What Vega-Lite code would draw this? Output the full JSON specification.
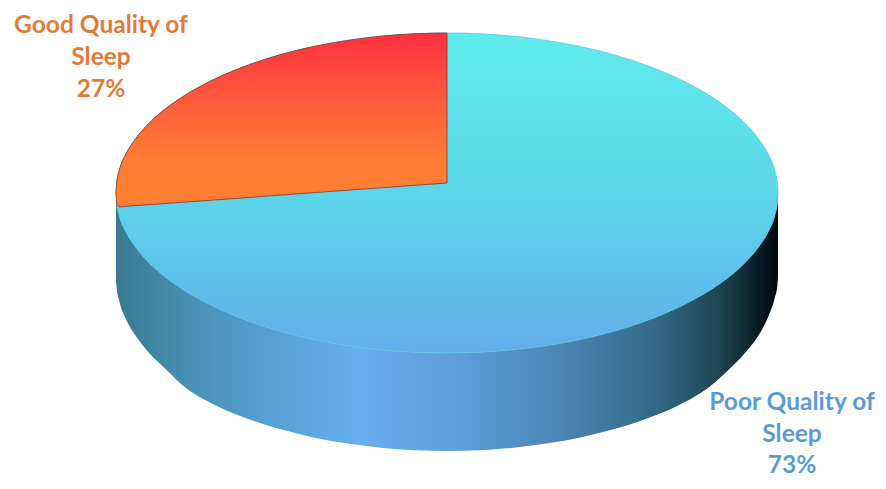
{
  "$schema": "https://vega.github.io/schema/vega-lite/v6.json",
  "width": 886,
  "height": 489,
  "autosize": {"type": "fit", "contains": "padding"},
  "padding": 0,
  "background": "#ffffff",
  "config": {"view": {"stroke": null}},
  "datasets": {
    "outline": [
      {"x": 116, "top": 193, "low": 193, "bottom": 280, "cut": 193},
      {"x": 116.7, "top": 182.9, "low": 203.1, "bottom": 288, "cut": 203},
      {"x": 119.3, "top": 170.4, "low": 215.6, "bottom": 301, "cut": 206.8},
      {"x": 125.9, "top": 154.1, "low": 231.9, "bottom": 319, "cut": 206.3},
      {"x": 135.9, "top": 138.4, "low": 247.6, "bottom": 336, "cut": 205.6},
      {"x": 149.1, "top": 123.2, "low": 262.8, "bottom": 353, "cut": 204.7},
      {"x": 165.6, "top": 108.7, "low": 277.3, "bottom": 369, "cut": 203.5},
      {"x": 182.2, "top": 97, "low": 289, "bottom": 385, "cut": 202.3},
      {"x": 215.3, "top": 78.8, "low": 307.2, "bottom": 405.2, "cut": 199.9},
      {"x": 248.4, "top": 65, "low": 321, "bottom": 419, "cut": 197.5},
      {"x": 281.5, "top": 54.4, "low": 331.6, "bottom": 429.6, "cut": 195},
      {"x": 314.6, "top": 46.3, "low": 339.7, "bottom": 437.7, "cut": 192.6},
      {"x": 347.7, "top": 40.4, "low": 345.6, "bottom": 443.6, "cut": 190.2},
      {"x": 380.8, "top": 36.2, "low": 349.8, "bottom": 447.8, "cut": 187.8},
      {"x": 413.9, "top": 33.8, "low": 352.2, "bottom": 450.2, "cut": 185.4},
      {"x": 447, "top": 33, "low": 353, "bottom": 451, "cut": 183},
      {"x": 480.1, "top": 33.8, "low": 352.2, "bottom": 450.2},
      {"x": 513.2, "top": 36.2, "low": 349.8, "bottom": 447.8},
      {"x": 546.3, "top": 40.4, "low": 345.6, "bottom": 443.6},
      {"x": 579.4, "top": 46.3, "low": 339.7, "bottom": 437.7},
      {"x": 612.5, "top": 54.4, "low": 331.6, "bottom": 429.6},
      {"x": 645.6, "top": 65, "low": 321, "bottom": 419},
      {"x": 678.7, "top": 78.8, "low": 307.2, "bottom": 405.2},
      {"x": 711.8, "top": 97, "low": 289, "bottom": 385},
      {"x": 728.4, "top": 108.7, "low": 277.3, "bottom": 370},
      {"x": 744.9, "top": 123.2, "low": 262.8, "bottom": 353},
      {"x": 758.1, "top": 138.4, "low": 247.6, "bottom": 336},
      {"x": 768.1, "top": 154.1, "low": 231.9, "bottom": 317},
      {"x": 774.7, "top": 170.4, "low": 215.6, "bottom": 298},
      {"x": 777.3, "top": 182.9, "low": 203.1, "bottom": 286},
      {"x": 778, "top": 193, "low": 193, "bottom": 278}
    ],
    "labels": [
      {"x": 101, "y": 33, "text": "Good Quality of", "group": "Good"},
      {"x": 101, "y": 65, "text": "Sleep", "group": "Good"},
      {"x": 101, "y": 97, "text": "27%", "group": "Good"},
      {"x": 792, "y": 410, "text": "Poor Quality of", "group": "Poor"},
      {"x": 792, "y": 442, "text": "Sleep", "group": "Poor"},
      {"x": 792, "y": 473, "text": "73%", "group": "Poor"}
    ]
  },
  "layer": [
    {
      "data": {"name": "outline"},
      "mark": {
        "type": "area",
        "interpolate": "monotone",
        "fill": {
          "gradient": "linear", "x1": 0, "y1": 0, "x2": 1, "y2": 0,
          "stops": [
            {"offset": 0, "color": "#3a7a90"},
            {"offset": 0.127, "color": "#4993ba"},
            {"offset": 0.278, "color": "#5ba6dd"},
            {"offset": 0.369, "color": "#65aef0"},
            {"offset": 0.505, "color": "#5f9fdf"},
            {"offset": 0.67, "color": "#4c86b5"},
            {"offset": 0.807, "color": "#346b8a"},
            {"offset": 0.912, "color": "#1f4552"},
            {"offset": 0.973, "color": "#071a22"},
            {"offset": 1, "color": "#02080c"}
          ]
        }
      },
      "encoding": {
        "x": {"field": "x", "type": "quantitative", "scale": {"domain": [0, 886], "nice": false, "zero": false}, "axis": null},
        "y": {"field": "low", "type": "quantitative", "scale": {"domain": [489, 0], "nice": false, "zero": false}, "axis": null},
        "y2": {"field": "bottom"}
      }
    },
    {
      "data": {"name": "outline"},
      "mark": {
        "type": "area",
        "interpolate": "monotone",
        "stroke": "#55c4dc",
        "strokeWidth": 0.8,
        "fill": {
          "gradient": "linear", "x1": 0, "y1": 0, "x2": 0, "y2": 1,
          "stops": [
            {"offset": 0, "color": "#5feced"},
            {"offset": 0.5, "color": "#5dd6ea"},
            {"offset": 1, "color": "#62adea"}
          ]
        }
      },
      "encoding": {
        "x": {"field": "x", "type": "quantitative"},
        "y": {"field": "top", "type": "quantitative"},
        "y2": {"field": "low"}
      }
    },
    {
      "data": {"name": "outline"},
      "transform": [{"filter": "isValid(datum.cut)"}],
      "mark": {
        "type": "area",
        "interpolate": "monotone",
        "stroke": "#8f3d33",
        "strokeWidth": 0.9,
        "fill": {
          "gradient": "linear", "x1": 0, "y1": 0, "x2": 0, "y2": 1,
          "stops": [
            {"offset": 0, "color": "#ff3040"},
            {"offset": 0.4, "color": "#ff5c3c"},
            {"offset": 0.72, "color": "#ff7c34"},
            {"offset": 1, "color": "#ff7f32"}
          ]
        }
      },
      "encoding": {
        "x": {"field": "x", "type": "quantitative"},
        "y": {"field": "top", "type": "quantitative"},
        "y2": {"field": "cut"}
      }
    },
    {
      "data": {"name": "labels"},
      "mark": {"type": "text", "font": "Lato", "fontWeight": "bold", "fontSize": 24.5, "align": "center", "baseline": "alphabetic"},
      "encoding": {
        "x": {"field": "x", "type": "quantitative"},
        "y": {"field": "y", "type": "quantitative"},
        "text": {"field": "text"},
        "color": {
          "field": "group",
          "type": "nominal",
          "scale": {"domain": ["Good", "Poor"], "range": ["#e07b39", "#5b9bd5"]},
          "legend": null
        }
      }
    }
  ]
}
